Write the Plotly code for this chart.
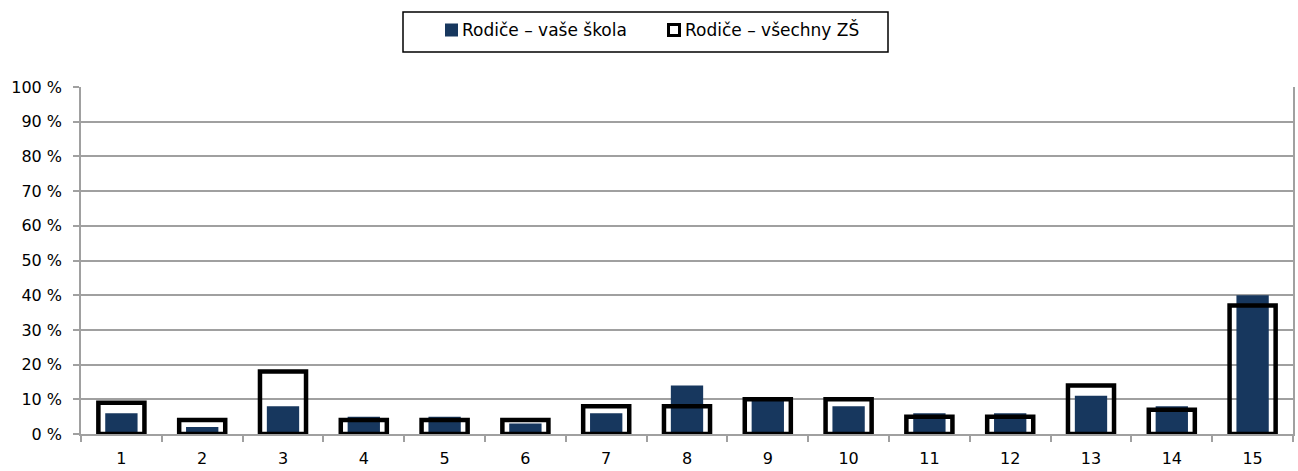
import plotly.graph_objects as go

# Otázky 1–15 a podíly odpovědí rodičů (v %)
categories = [str(i) for i in range(1, 16)]
vase_skola = [6, 2, 8, 5, 5, 3, 6, 14, 10, 8, 6, 6, 11, 8, 40]
vsechny_zs = [9, 4, 18, 4, 4, 4, 8, 8, 10, 10, 5, 5, 14, 7, 37]
y_ticks = list(range(0, 101, 10))
y_tick_text = [f"{v} %" for v in y_ticks]
series_names = ["Rodiče – vaše škola", "Rodiče – všechny ZŠ"]

FONT = "DejaVu Sans"
BLUE = "#17375E"
GRID = "#A0A0A0"

W, H = 1298, 471
M_L, M_R, M_T, M_B = 81, 5, 87, 37
PLOT_W = W - M_L - M_R
PLOT_H = H - M_T - M_B


def px_x(px):
    """Pixel column -> paper x."""
    return (px - M_L) / PLOT_W


def px_y(py):
    """Pixel row (from top) -> paper y."""
    return (H - M_B - py) / PLOT_H


fig = go.Figure()

fig.add_trace(go.Bar(
    x=categories, y=vase_skola, name=series_names[0],
    width=0.40, marker=dict(color=BLUE, line=dict(width=0)),
))
fig.add_trace(go.Bar(
    x=categories, y=vsechny_zs, name=series_names[1],
    width=0.57, marker=dict(color="rgba(0,0,0,0)", line=dict(color="black", width=4.5)),
))

# Legend box drawn above the plot area
shapes = [
    dict(type="rect", xref="paper", yref="paper",
         x0=px_x(403), x1=px_x(888), y0=px_y(52), y1=px_y(12),
         line=dict(color="black", width=1.5), fillcolor="white", layer="above"),
    dict(type="rect", xref="paper", yref="paper",
         x0=px_x(445), x1=px_x(458), y0=px_y(36.5), y1=px_y(23.5),
         line=dict(width=0), fillcolor=BLUE, layer="above"),
    dict(type="rect", xref="paper", yref="paper",
         x0=px_x(668.5), x1=px_x(679.5), y0=px_y(35.5), y1=px_y(24.5),
         line=dict(color="black", width=3), fillcolor="white", layer="above"),
]
annotations = [
    dict(text=series_names[0], xref="paper", yref="paper", x=px_x(460), y=px_y(29.5),
         xanchor="left", yanchor="middle", showarrow=False,
         font=dict(family=FONT, size=17, color="black")),
    dict(text=series_names[1], xref="paper", yref="paper", x=px_x(683), y=px_y(29.5),
         xanchor="left", yanchor="middle", showarrow=False,
         font=dict(family=FONT, size=17, color="black")),
]

fig.update_layout(
    width=W, height=H,
    margin=dict(l=M_L, r=M_R, t=M_T, b=M_B),
    barmode="overlay",
    plot_bgcolor="white", paper_bgcolor="white",
    font=dict(family=FONT, size=16, color="black"),
    showlegend=False,
    shapes=shapes,
    annotations=annotations,
    xaxis=dict(
        type="category", automargin=False,
        showline=True, linecolor=GRID, linewidth=1.5,
        ticks="outside", tickson="boundaries", ticklen=6, tickcolor=GRID, tickwidth=1.5,
        showgrid=False, tickfont=dict(family=FONT, size=16, color="black"),
        ticklabelstandoff=9,
    ),
    yaxis=dict(
        range=[0, 100], tickmode="array", tickvals=y_ticks, ticktext=y_tick_text,
        automargin=False,
        showline=True, linecolor=GRID, linewidth=1.5, mirror=True,
        ticks="outside", ticklen=6, tickcolor=GRID, tickwidth=1.5,
        showgrid=True, gridcolor=GRID, gridwidth=1.5,
        zeroline=False, tickfont=dict(family=FONT, size=16, color="black"),
        ticklabelstandoff=8,
    ),
)

fig.write_html("out.html")
